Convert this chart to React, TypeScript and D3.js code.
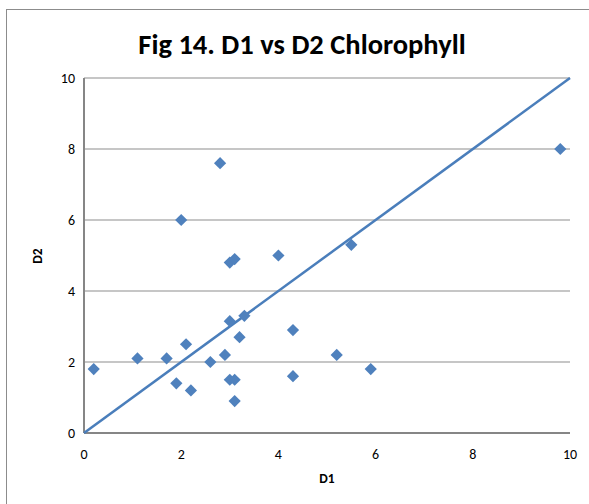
import React from "react";
import * as d3 from "d3";

const d1Values = [0.2, 1.1, 1.7, 1.9, 2.0, 2.1, 2.2, 2.6, 2.8, 2.9, 3.0, 3.1, 3.0, 3.0, 3.1, 3.1, 3.2, 3.3, 4.0, 4.3, 4.3, 5.2, 5.5, 5.9, 9.8];
const d2Values = [1.8, 2.1, 2.1, 1.4, 6.0, 2.5, 1.2, 2.0, 7.6, 2.2, 4.8, 4.9, 3.15, 1.5, 1.5, 0.9, 2.7, 3.3, 5.0, 2.9, 1.6, 2.2, 5.3, 1.8, 8.0];
const lineX = [0, 10];
const lineY = [0, 10];
const xTicks = [0, 2, 4, 6, 8, 10];
const yTicks = [0, 2, 4, 6, 8, 10];

const W = 589;
const H = 504;
const left = 84;
const right = 570;
const top = 78;
const bottom = 433;
const FONT = "Carlito, Calibri, 'Open Sans', 'Liberation Sans', sans-serif";

export default function App() {
  const x = d3.scaleLinear().domain([0, 10]).range([left, right]);
  const y = d3.scaleLinear().domain([0, 10]).range([bottom, top]);
  const line = d3
    .line<number>()
    .x((_, i) => x(lineX[i]))
    .y((_, i) => y(lineY[i]));
  const diamond = d3.symbol().type(d3.symbolDiamond2).size(95)();

  return (
    <svg
      width={W}
      height={H}
      style={{ position: "absolute", left: 0, top: 0 }}
      fontFamily={FONT}
    >
      <rect x={0} y={0} width={W} height={H} fill="#fff" />
      <rect x={6.5} y={9.5} width={W + 10} height={H + 10} fill="none" stroke="#8c8c8c" strokeWidth={1} />
      <text x={302} y={54} textAnchor="middle" fontSize={28.5} fontWeight="bold" fill="#000">
        Fig 14. D1 vs D2 Chlorophyll
      </text>
      {yTicks.map((t) => (
        <line key={"g" + t} x1={left} x2={right} y1={y(t)} y2={y(t)} stroke={t === 0 ? "#868686" : "#b3b3b3"} strokeWidth={t === 0 ? 2 : 1.3} />
      ))}
      <line x1={left} x2={left} y1={top} y2={bottom} stroke="#868686" strokeWidth={2} />
      {yTicks.map((t) => (
        <text key={"yl" + t} x={left - 9} y={y(t) + 5} textAnchor="end" fontSize={14} fill="#000">
          {t}
        </text>
      ))}
      {xTicks.map((t) => (
        <text key={"xl" + t} x={x(t)} y={bottom + 26} textAnchor="middle" fontSize={14} fill="#000">
          {t}
        </text>
      ))}
      <text x={(left + right) / 2} y={483} textAnchor="middle" fontSize={13.5} fontWeight="bold" fill="#000">
        D1
      </text>
      <text transform={`translate(42,256) rotate(-90)`} textAnchor="middle" fontSize={13.5} fontWeight="bold" fill="#000">
        D2
      </text>
      <path d={line(lineX) || ""} fill="none" stroke="#4a7ebb" strokeWidth={2.5} />
      {d1Values.map((v, i) => (
        <path key={"p" + i} d={diamond || ""} transform={`translate(${x(v)},${y(d2Values[i])})`} fill="#4f81bd" />
      ))}
    </svg>
  );
}
